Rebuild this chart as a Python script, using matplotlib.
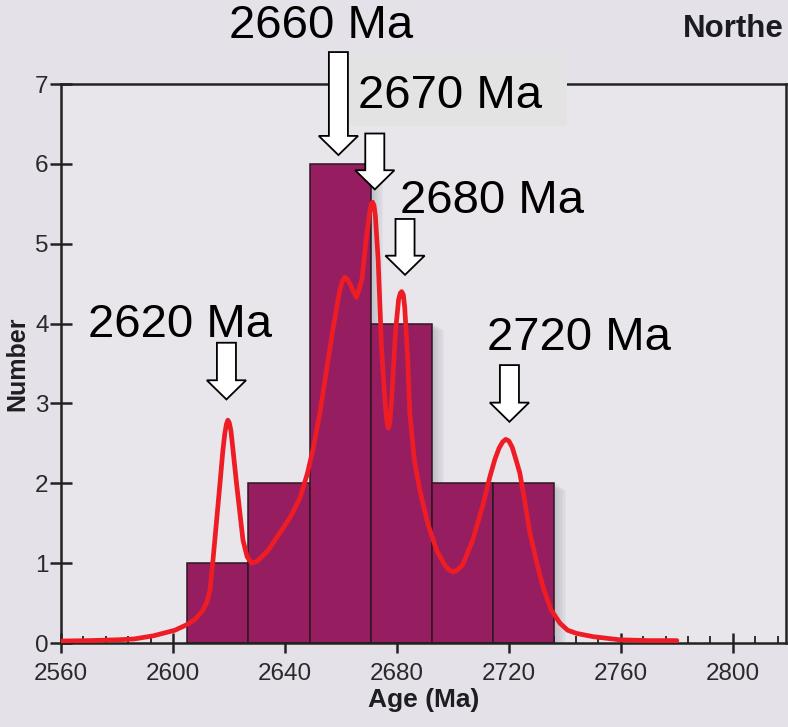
import matplotlib
matplotlib.use("Agg")
import matplotlib.pyplot as plt
from matplotlib.patches import Polygon, Rectangle
from matplotlib.ticker import MultipleLocator

# ---------------- data ----------------
bin_edges = [2605.0, 2626.8, 2648.8, 2670.6, 2692.4, 2714.4, 2736.0]
counts = [1, 2, 6, 4, 2, 2]

curve_age = [2560, 2570, 2580, 2586, 2593, 2600.7, 2605, 2608, 2610.7, 2612.2,
             2613.2, 2614.3, 2615.5, 2616.8, 2617.8, 2618.5, 2619.1, 2619.6,
             2620.1, 2620.7, 2621.5, 2622.7, 2624.0, 2625.0, 2626.5, 2628.1,
             2630, 2634, 2638.2, 2642, 2645.4, 2648, 2650, 2652.5, 2655, 2657.1,
             2659.5, 2660.5, 2661.4, 2662.4, 2663.5, 2664.6, 2665.6, 2667.5,
             2669, 2670.3, 2670.9, 2671.3, 2671.8, 2672.3, 2673.3, 2674.5,
             2675.8, 2676.4, 2676.9, 2677.5, 2678.2, 2679.5, 2680.6, 2681.2,
             2681.7, 2682.3, 2682.8, 2683.8, 2684.6, 2686.2, 2688.2, 2691,
             2694.2, 2697, 2698.5, 2700, 2701.5, 2703.5, 2707.1, 2710.5, 2713.2,
             2715, 2716.5, 2717.8, 2718.9, 2720.0, 2721.2, 2722.5, 2723.9,
             2725.8, 2727.5, 2730, 2732.2, 2735, 2738.2, 2741, 2744.2, 2750,
             2759.6, 2770, 2780]
curve_num = [0.025, 0.03, 0.04, 0.05, 0.09, 0.16, 0.23, 0.30, 0.41, 0.52,
             0.66, 1.04, 1.50, 2.00, 2.40, 2.62, 2.74, 2.79,
             2.76, 2.66, 2.40, 2.00, 1.60, 1.29, 1.08, 1.00,
             1.02, 1.16, 1.38, 1.58, 1.82, 2.12, 2.42, 2.88, 3.45, 3.92,
             4.40, 4.53, 4.58, 4.55, 4.48, 4.39, 4.33, 4.55,
             5.05, 5.40, 5.50, 5.52, 5.48, 5.35, 4.80, 3.70,
             3.00, 2.78, 2.69, 2.76, 3.10, 3.90, 4.30, 4.38,
             4.40, 4.36, 4.20, 3.60, 2.88, 2.30, 1.91, 1.50,
             1.16, 0.98, 0.92, 0.89, 0.91, 0.98, 1.29, 1.70, 2.08,
             2.30, 2.44, 2.52, 2.55, 2.53, 2.45, 2.30, 2.13,
             1.75, 1.38, 1.00, 0.70, 0.42, 0.25, 0.16, 0.12, 0.08,
             0.04, 0.03, 0.03]

peak_labels = ["2620 Ma", "2660 Ma", "2670 Ma", "2680 Ma", "2720 Ma"]
x_ticks = [2560, 2600, 2640, 2680, 2720, 2760, 2800]
y_ticks = [0, 1, 2, 3, 4, 5, 6, 7]

# ---------------- layout / style ----------------
W, H = 788, 727
fig = plt.figure(figsize=(W / 100, H / 100), dpi=100)
fig.patch.set_facecolor("#e4e2e8")

ax_l, ax_r, ax_t, ax_b = 61, 786, 84, 643
ax = fig.add_axes([ax_l / W, (H - ax_b) / H, (ax_r - ax_l) / W, (ax_b - ax_t) / H])
ax.set_facecolor("#e8e5eb")
ax.set_xlim(2560, 2819)
ax.set_ylim(0, 7)

FONT = "Liberation Sans"

# soft shadow behind bars
widths = [bin_edges[i + 1] - bin_edges[i] for i in range(len(counts))]
for k in range(8):
    off = 0.6 + k * 0.55
    for left, w, c in zip(bin_edges[:-1], widths, counts):
        ax.add_patch(Rectangle((left + off, -0.2), w, c + 0.2 - k * 0.012,
                               facecolor="#6e6e78", edgecolor="none",
                               alpha=0.045, zorder=1))

ax.bar(bin_edges[:-1], counts, width=widths, align="edge",
       color="#961e60", edgecolor="#2b1822", linewidth=1.1, zorder=2)

ax.plot(curve_age, curve_num, color="#ee1c24", lw=3.4,
        solid_joinstyle="round", solid_capstyle="round", zorder=4)

# spines and ticks
for s in ax.spines.values():
    s.set_color("#222222")
    s.set_linewidth(1.8)
ax.set_xticks(x_ticks)
ax.set_yticks(y_ticks)
ax.xaxis.set_minor_locator(MultipleLocator(8))
ax.tick_params(axis="x", which="major", direction="inout", length=15, width=1.8,
               color="#222222", pad=7)
ax.tick_params(axis="x", which="minor", direction="in", length=5, width=1.3,
               color="#222222")
ax.tick_params(axis="y", which="major", direction="inout", length=16, width=1.8,
               color="#222222", pad=1)
ax.tick_params(axis="y", which="minor", left=False)
for lab in ax.get_xticklabels() + ax.get_yticklabels():
    lab.set_fontfamily(FONT)
    lab.set_fontsize(17.5)
    lab.set_color("#2a2a2e")

ax.set_xlabel("Age (Ma)", fontfamily=FONT, fontsize=19, fontweight="bold",
              color="#1e1e22", labelpad=2)
ax.set_ylabel("Number", fontfamily=FONT, fontsize=18, fontweight="bold",
              color="#1e1e22", labelpad=4)

# top-right partial title (cut by the image edge in the original)
fig.text(683 / W, 1 - 37 / H, "Northe", fontfamily=FONT, fontsize=22.5,
         fontweight="bold", color="#1b1b22", ha="left", va="baseline")

# ---------------- peak annotations ----------------
# arrow: (centre age, tip number, top number); text: (left age, baseline number)
arrow_pos = [(2619.1, 3.05, 3.76), (2659.1, 6.11, 7.40), (2672.1, 5.68, 6.38),
             (2682.9, 4.61, 5.31), (2720.2, 2.77, 3.48)]
text_pos = [(2569.6, 3.83), (2620.0, 7.57), (2666.1, 6.70), (2681.1, 5.39),
            (2712.1, 3.67)]

# grey box behind the 2670 Ma label
ax.add_patch(Rectangle((2662.5, 6.48), 78.2, 0.90, facecolor="#e3e3e3",
                       edgecolor="none", clip_on=False, zorder=5))

sw, hw, hl = 3.4, 7.0, 0.24
for (cx, tip, top) in arrow_pos:
    pts = [(cx - sw, top), (cx + sw, top), (cx + sw, tip + hl), (cx + hw, tip + hl),
           (cx, tip), (cx - hw, tip + hl), (cx - sw, tip + hl)]
    ax.add_patch(Polygon(pts, closed=True, facecolor="white", edgecolor="black",
                         linewidth=1.3, clip_on=False, zorder=6))

for lab, (tx, ty) in zip(peak_labels, text_pos):
    ax.text(tx, ty, lab, fontfamily=FONT, fontsize=34, color="black",
            ha="left", va="baseline", clip_on=False, zorder=7)

fig.savefig("out.png", dpi=100, facecolor=fig.get_facecolor())
